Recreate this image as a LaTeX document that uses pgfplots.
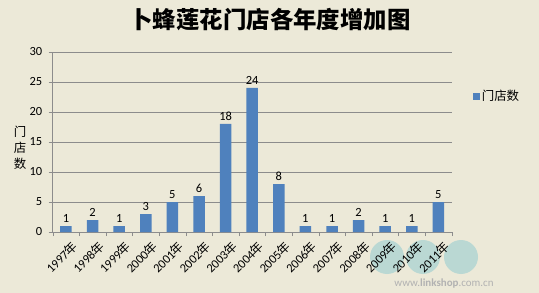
\documentclass[border=0pt]{standalone}
\usepackage{pgfplots}
\pgfplotsset{compat=1.18}
\usepackage{fontspec}
\setmainfont{Carlito}
\newfontfamily\cjk{Noto Sans CJK SC}
\newcommand\nian{{\cjk 年}}
\definecolor{bg}{HTML}{ECE9D8}
\definecolor{barblue}{HTML}{4F81BD}
\definecolor{gridgray}{HTML}{8C8C8C}
\begin{document}
\begin{tikzpicture}
\fill[bg] (-66bp,-61bp) rectangle (473bp,232bp);
% watermark (background decoration)
\foreach \x in {321,357,395}{
  \fill[teal!35!white, opacity=0.7] (\x bp,-25bp) circle (17bp);
}
\node[text=gray!60, font=\fontsize{11}{12}\selectfont] at (378bp,-52bp) {www.\textbf{linkshop}.com.cn};
\begin{axis}[
  at={(0,0)}, anchor=origin,
  scale only axis, width=399bp, height=180bp,
  ybar, bar width=11.5bp,
  xmin=-0.5, xmax=14.5, ymin=0, ymax=30,
  ytick={0,5,...,30},
  xtick={0,...,14},
  xticklabels={1997\nian,1998\nian,1999\nian,2000\nian,2001\nian,2002\nian,2003\nian,2004\nian,2005\nian,2006\nian,2007\nian,2008\nian,2009\nian,2010\nian,2011\nian},
  minor xtick={-0.5,0.5,...,14.5},
  major x tick style={draw=none},
  minor x tick style={gridgray},
  y tick style={gridgray},
  tick align=outside,
  major tick length=4bp, minor tick length=4bp,
  axis x line*=bottom, axis y line*=left,
  axis line style={gridgray, -},
  ymajorgrids, grid style={gridgray, line width=0.6pt},
  xminorgrids=false,
  tick label style={font=\fontsize{12.5}{14}\selectfont},
  /pgf/number format/assume math mode=true,
  xticklabel style={rotate=45, anchor=north east, inner sep=1pt, yshift=-5bp, xshift=2bp},
  yticklabel style={xshift=-3bp},
  nodes near coords,
  every node near coord/.append style={font=\fontsize{12.5}{14}\selectfont, black},
  legend style={at={(1.045,0.755)}, anchor=west, draw=none, fill=none, font=\cjk\fontsize{12.5}{14}\selectfont},
  legend image code/.code={\fill[barblue] (0bp,-3.5bp) rectangle (7bp,3.5bp);},
]
\addplot[fill=barblue, draw=none] coordinates {
(0,1) (1,2) (2,1) (3,3) (4,5) (5,6) (6,18) (7,24) (8,8) (9,1) (10,1) (11,2) (12,1) (13,1) (14,5)};
\addlegendentry{门店数}
\end{axis}
\node[font=\cjk\bfseries\fontsize{23.5}{26}\selectfont] at (204bp,212bp) {卜蜂莲花门店各年度增加图};
\node[font=\cjk\fontsize{12.5}{16}\selectfont, align=center] at (-46bp,84bp) {门\\店\\数};
\pgfresetboundingbox
\useasboundingbox (-66bp,-61bp) rectangle (473bp,232bp);
\end{tikzpicture}
\end{document}
